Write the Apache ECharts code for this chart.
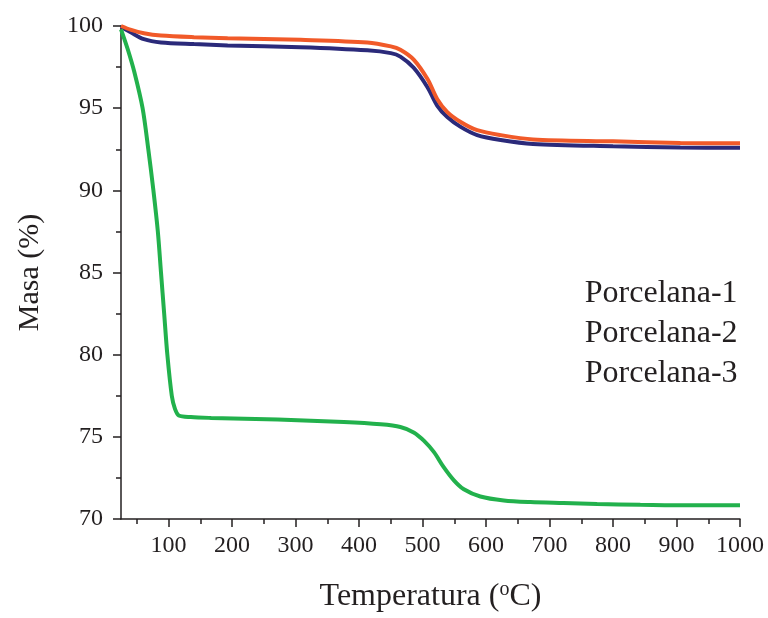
<!DOCTYPE html>
<html lang="es">
<head>
<meta charset="utf-8">
<title>TGA Porcelana</title>
<script src="https://cdn.jsdelivr.net/npm/echarts@6/dist/echarts.min.js"></script>
<style>
  html, body { margin: 0; padding: 0; background: #fff; }
  #chart { width: 768px; height: 618px; }
</style>
</head>
<body>
<div id="chart"></div>
<script>
// datos (temperatura en oC, masa en %)
var p1Temp = [25, 41, 61, 88, 140, 193, 308, 413, 450, 465, 486, 508, 523, 539, 560, 586, 623, 674, 800, 906, 1000];
var p1Mass = [100, 99.76, 99.56, 99.42, 99.32, 99.26, 99.16, 99.0, 98.76, 98.56, 97.96, 96.76, 95.56, 94.76, 94.16, 93.66, 93.36, 93.1, 92.98, 92.88, 92.86];

var p2Temp = [25, 41, 61, 88, 140, 193, 308, 413, 450, 465, 486, 508, 523, 539, 560, 586, 623, 674, 800, 906, 1000];
var p2Mass = [99.95, 99.6, 99.2, 99.0, 98.9, 98.82, 98.71, 98.52, 98.35, 98.14, 97.46, 96.26, 95.16, 94.46, 93.86, 93.36, 93.06, 92.82, 92.68, 92.6, 92.59];

var p3Temp = [25, 35.5, 46, 59, 68, 76, 83, 88, 93, 98, 105, 110, 116, 135, 167, 272, 376, 434, 465, 486, 502, 518, 533, 549, 565, 591, 628, 670, 722, 775, 843, 920, 1000];
var p3Mass = [99.8, 98.6, 97.2, 95.0, 92.5, 90.0, 87.5, 85.0, 82.5, 80.0, 77.5, 76.7, 76.3, 76.2, 76.15, 76.05, 75.9, 75.76, 75.6, 75.27, 74.77, 74.07, 73.17, 72.37, 71.81, 71.37, 71.13, 71.03, 70.97, 70.91, 70.86, 70.83, 70.84];

var names = ['Porcelana-1', 'Porcelana-2', 'Porcelana-3'];
var majorX = [100, 200, 300, 400, 500, 600, 700, 800, 900, 1000];
var minorX = [50, 150, 250, 350, 450, 550, 650, 750, 850, 950];

function pairs(xs, ys) {
    return xs.map(function (x, i) { return [x, ys[i]]; });
}

var ink = '#231f20';
var serif = '"Liberation Serif", "DejaVu Serif", serif';

var chart = echarts.init(document.getElementById('chart'));
chart.setOption({
    animation: false,
    backgroundColor: '#fff',
    grid: { left: 121, right: 28, top: 26, bottom: 93 },
    legend: {
        orient: 'vertical',
        left: 561,
        top: 273,
        selectedMode: false,
        itemWidth: 0,
        itemHeight: 32,
        itemGap: 8,
        itemStyle: { opacity: 0 },
        lineStyle: { opacity: 0 },
        textStyle: { fontFamily: serif, fontSize: 32, lineHeight: 32, color: ink },
        data: names
    },
    xAxis: [{
        type: 'value',
        min: 25,
        max: 1000,
        name: 'Temperatura ({sup|o}C)',
        nameLocation: 'middle',
        nameGap: 61,
        nameTextStyle: {
            fontFamily: serif, fontSize: 32, color: ink,
            rich: { sup: { fontFamily: serif, fontSize: 20, color: ink, padding: [0, 0, 14, 0] } }
        },
        splitLine: { show: false },
        axisLine: { lineStyle: { color: ink, width: 1.5 } },
        axisTick: { customValues: majorX, length: 8, lineStyle: { color: ink, width: 1.5 } },
        axisLabel: {
            customValues: majorX, margin: 15, fontFamily: serif, fontSize: 24, color: ink,
            formatter: function (v) { return String(v); }
        }
    }, {
        type: 'value',
        min: 25,
        max: 1000,
        position: 'bottom',
        splitLine: { show: false },
        axisLine: { show: false },
        axisTick: { customValues: minorX, length: 5, lineStyle: { color: ink, width: 1.5 } },
        axisLabel: { show: false }
    }],
    yAxis: {
        type: 'value',
        min: 70,
        max: 100,
        interval: 5,
        name: 'Masa (%)',
        nameLocation: 'middle',
        nameGap: 76,
        nameTextStyle: { fontFamily: serif, fontSize: 30, color: ink },
        splitLine: { show: false },
        axisLine: { show: true, lineStyle: { color: ink, width: 1.5 } },
        axisTick: { length: 8, lineStyle: { color: ink, width: 1.5 } },
        minorTick: { show: true, splitNumber: 2, length: 5, lineStyle: { color: ink, width: 1.5 } },
        axisLabel: { margin: 18, fontFamily: serif, fontSize: 24, color: ink }
    },
    series: [{
        name: names[1],
        type: 'line',
        data: pairs(p2Temp, p2Mass),
        smooth: 0.3,
        showSymbol: false,
        lineStyle: { color: '#2b2a7a', width: 4 },
        itemStyle: { color: '#2b2a7a' },
        z: 2
    }, {
        name: names[0],
        type: 'line',
        data: pairs(p1Temp, p1Mass),
        smooth: 0.3,
        showSymbol: false,
        lineStyle: { color: '#f15a29', width: 4 },
        itemStyle: { color: '#f15a29' },
        z: 3
    }, {
        name: names[2],
        type: 'line',
        data: pairs(p3Temp, p3Mass),
        smooth: 0.3,
        showSymbol: false,
        lineStyle: { color: '#22b14c', width: 4 },
        itemStyle: { color: '#22b14c' },
        z: 4
    }]
});
</script>
</body>
</html>
